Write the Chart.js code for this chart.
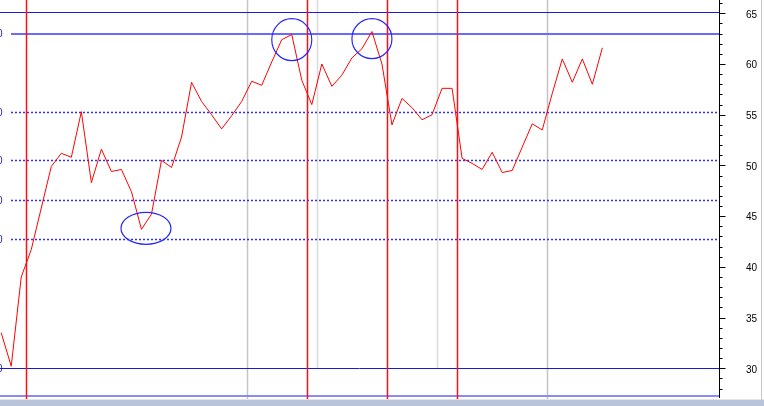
<!DOCTYPE html>
<html>
<head>
<meta charset="utf-8">
<script src="https://cdn.jsdelivr.net/npm/chart.js@4/dist/chart.umd.min.js"></script>
<style>
html,body{margin:0;padding:0;background:#fff;}
#wrap{width:764px;height:406px;position:relative;}
</style>
</head>
<body>
<div id="wrap"><canvas id="c" width="764" height="406"></canvas></div>
<script>
// ---- data ----
const closeValues = [
  33.5, 30.2, 39.0, 41.7, 45.8, 49.9, 51.2, 50.8, 55.3, 48.3,
  51.6, 49.4, 49.6, 47.4, 43.7, 45.2, 50.5, 49.8, 52.8, 58.2,
  56.3, 55.0, 53.6, 54.9, 56.3, 58.3, 57.9, 60.2, 62.4, 62.9,
  58.4, 56.0, 60.0, 57.8, 58.9, 60.6, 61.5, 63.2, 60.0, 54.0,
  56.6, 55.7, 54.5, 55.0, 57.6, 57.6, 50.7, 50.2, 49.6, 51.3,
  49.3, 49.5, 51.8, 54.1, 53.5, 57.1, 60.5, 58.2, 60.5, 58.0,
  61.6
];
const yTickValues = [30, 35, 40, 45, 50, 55, 60, 65];
const levelSolidDark = [65.13, 30.0];
const levelSolidLight = [63.0];
const levelDotted = [55.27, 50.5, 46.56, 42.7];
const levelBottom = [27.26];
const levelLabels = ["63.00", "55.30", "50.50", "46.60", "42.70", "30.00"];
const levelLabelValues = [63.0, 55.27, 50.5, 46.56, 42.7, 30.0];
const redMarkers = [2.5, 30.5, 38.5, 45.5];
const grayMarkersDark = [24.5, 54.5];
const grayMarkersLight = [31.5, 43.5];
const circleCenters = [[14.45, 43.8], [29.0, 62.4], [37.0, 62.5]];
const circleRadii = [[25, 16], [20, 21], [20, 20]];

const points = closeValues.map((v, i) => ({x: i, y: v}));

const overlay = {
  id: 'overlay',
  beforeDatasetsDraw(chart) {
    const {ctx, chartArea: a, scales: {x, y}} = chart;
    ctx.save();
    // gray verticals
    ctx.lineWidth = 1.5;
    ctx.strokeStyle = '#c4c4c4';
    grayMarkersDark.forEach(m => {
      const px = Math.round(x.getPixelForValue(m)) + 0.5;
      ctx.beginPath(); ctx.moveTo(px, 0); ctx.lineTo(px, 400); ctx.stroke();
    });
    ctx.strokeStyle = '#dadada';
    grayMarkersLight.forEach(m => {
      const px = Math.round(x.getPixelForValue(m)) + 0.5;
      ctx.beginPath(); ctx.moveTo(px, 0); ctx.lineTo(px, y.getPixelForValue(30)); ctx.stroke();
    });
    // horizontal levels
    ctx.lineWidth = 1;
    ctx.strokeStyle = '#1a1adc';
    levelSolidDark.forEach(v => {
      const py = Math.round(y.getPixelForValue(v)) + 0.5;
      ctx.beginPath(); ctx.moveTo(0, py); ctx.lineTo(a.right, py); ctx.stroke();
    });
    ctx.lineWidth = 2;
    ctx.strokeStyle = '#6a6aff';
    levelSolidLight.forEach(v => {
      const py = Math.round(y.getPixelForValue(v));
      ctx.beginPath(); ctx.moveTo(11, py); ctx.lineTo(a.right, py); ctx.stroke();
    });
    ctx.strokeStyle = '#8a8aff';
    levelBottom.forEach(v => {
      const py = Math.round(y.getPixelForValue(v));
      ctx.beginPath(); ctx.moveTo(0, py); ctx.lineTo(a.right, py); ctx.stroke();
    });
    ctx.lineWidth = 1.5;
    ctx.strokeStyle = '#3030f0';
    ctx.setLineDash([2, 2]);
    levelDotted.forEach(v => {
      const py = Math.round(y.getPixelForValue(v)) + 0.5;
      ctx.beginPath(); ctx.moveTo(11, py); ctx.lineTo(a.right, py); ctx.stroke();
    });
    ctx.setLineDash([]);
    // red verticals
    ctx.lineWidth = 1.5;
    ctx.strokeStyle = '#ff1010';
    redMarkers.forEach(m => {
      const px = Math.round(x.getPixelForValue(m)) + 0.5;
      ctx.beginPath(); ctx.moveTo(px, 0); ctx.lineTo(px, 400); ctx.stroke();
    });
    // cut-off left labels
    ctx.fillStyle = '#2020c0';
    ctx.font = '10px "Liberation Sans", Arial, sans-serif';
    ctx.textAlign = 'right';
    ctx.textBaseline = 'middle';
    levelLabelValues.forEach((v, i) => {
      ctx.fillText(levelLabels[i], 2.5, y.getPixelForValue(v) + 1);
    });
    ctx.restore();
  },
  afterDraw(chart) {
    const {ctx, chartArea: a, scales: {x, y}} = chart;
    ctx.save();
    // circles
    ctx.strokeStyle = '#2828ff';
    ctx.lineWidth = 1.2;
    circleCenters.forEach((c, i) => {
      const cx = x.getPixelForValue(c[0]);
      const cy = y.getPixelForValue(c[1]);
      ctx.beginPath();
      ctx.ellipse(cx, cy, circleRadii[i][0], circleRadii[i][1], 0, 0, Math.PI * 2);
      ctx.stroke();
    });
    // right axis
    const ax = a.right + 0.5;
    ctx.strokeStyle = '#000';
    ctx.lineWidth = 1;
    ctx.beginPath(); ctx.moveTo(ax, 0); ctx.lineTo(ax, 398); ctx.stroke();
    for (let v = 28; v <= 66; v++) {
      const py = Math.round(y.getPixelForValue(v)) + 0.5;
      const len = (v % 5 === 0) ? 6 : 3;
      ctx.beginPath(); ctx.moveTo(ax, py); ctx.lineTo(ax + len, py); ctx.stroke();
    }
    ctx.fillStyle = '#000';
    ctx.font = '10px "Liberation Sans", Arial, sans-serif';
    ctx.textAlign = 'left';
    ctx.textBaseline = 'middle';
    yTickValues.forEach(v => {
      ctx.fillText(String(v), 746, y.getPixelForValue(v) + 1.5);
    });
    // frame bits
    ctx.fillStyle = '#b9c3da';
    ctx.fillRect(0, 400, 764, 6);
    ctx.fillStyle = '#e4e4e4';
    ctx.fillRect(0, 399, 764, 1);
    ctx.fillStyle = '#c8c8c8';
    ctx.fillRect(761, 0, 1, 400);
    ctx.restore();
  }
};

new Chart(document.getElementById('c'), {
  type: 'line',
  data: {
    datasets: [{
      data: points,
      borderColor: '#ff0000',
      borderWidth: 1,
      pointRadius: 0,
      tension: 0,
      fill: false
    }]
  },
  options: {
    responsive: false,
    animation: false,
    devicePixelRatio: 1,
    layout: {padding: {left: 0, top: 0, right: 45, bottom: 7.4}},
    plugins: {legend: {display: false}, tooltip: {enabled: false}},
    scales: {
      x: {type: 'linear', display: false, min: -0.12, max: 71.64},
      y: {type: 'linear', display: false, min: 27.01, max: 66.31}
    }
  },
  plugins: [overlay]
});
</script>
</body>
</html>
